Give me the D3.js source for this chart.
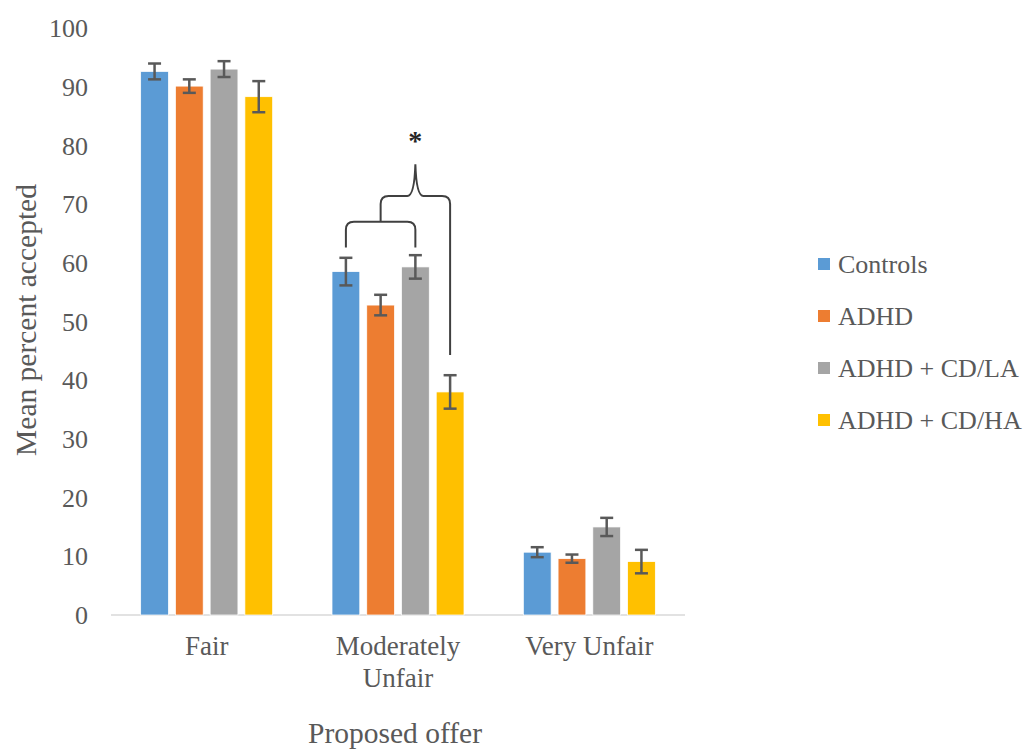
<!DOCTYPE html>
<html>
<head>
<meta charset="utf-8">
<script src="https://cdn.jsdelivr.net/npm/d3@7"></script>
<style>
  html, body { margin: 0; padding: 0; background: #fff; }
  svg { display: block; }
  text { font-family: "Liberation Serif", "Times New Roman", serif; fill: #595959; }
</style>
</head>
<body>
<svg id="chart" width="1026" height="751"></svg>
<script>
// Offer categories and groups
const categories = ["Fair", "Moderately Unfair", "Very Unfair"];
const groups = ["Controls", "ADHD", "ADHD + CD/LA", "ADHD + CD/HA"];
const groupColors = ["#5B9BD5", "#ED7D31", "#A5A5A5", "#FFC000"];

// Mean percent accepted, one array per group (Fair, Moderately Unfair, Very Unfair)
const controlsMean = [92.6, 58.5, 10.7];
const adhdMean     = [90.1, 52.8, 9.6];
const cdLaMean     = [93.0, 59.3, 15.0];
const cdHaMean     = [88.3, 38.0, 9.1];

// Standard errors for the same cells
const controlsErr = [1.35, 2.35, 0.85];
const adhdErr     = [1.15, 1.75, 0.7];
const cdLaErr     = [1.35, 2.0, 1.55];
const cdHaErr     = [2.65, 2.85, 2.0];

const yTicks = [0, 10, 20, 30, 40, 50, 60, 70, 80, 90, 100];

const means = [controlsMean, adhdMean, cdLaMean, cdHaMean];
const errs = [controlsErr, adhdErr, cdLaErr, cdHaErr];

const cells = [];
categories.forEach((c, ci) => {
  groups.forEach((g, gi) => {
    cells.push({ cat: c, group: g, gi, value: means[gi][ci], err: errs[gi][ci] });
  });
});

const svg = d3.select("#chart");

const x0 = d3.scaleBand().domain(categories).range([111, 685]);
const x1 = d3.scaleBand().domain(groups).range([-66, 66]).paddingInner(0.2);
const y = d3.scaleLinear().domain([0, 100]).range([615, 28]);

const cx = c => x0(c) + x0.bandwidth() / 2;
const barX = d => cx(d.cat) + x1(d.group);
const barMid = (c, g) => cx(c) + x1(g) + x1.bandwidth() / 2;

// Y tick labels (no gridlines)
svg.append("g").selectAll("text").data(yTicks).join("text")
  .attr("x", 88)
  .attr("y", d => y(d))
  .attr("dy", "0.35em")
  .attr("text-anchor", "end")
  .attr("font-size", 26)
  .text(d => d);

// Baseline
svg.append("line")
  .attr("x1", x0.range()[0]).attr("x2", x0.range()[1])
  .attr("y1", y(0)).attr("y2", y(0))
  .attr("stroke", "#D9D9D9").attr("stroke-width", 1.5);

// Bars
svg.append("g").selectAll("rect").data(cells).join("rect")
  .attr("x", barX)
  .attr("y", d => y(d.value))
  .attr("width", x1.bandwidth())
  .attr("height", d => y(0) - y(d.value))
  .attr("fill", d => groupColors[d.gi])
  .attr("stroke", "#ffffff")
  .attr("stroke-width", 0.75);

// Error bars
const eb = svg.append("g").attr("stroke", "#595959").attr("stroke-width", 2.5).attr("fill", "none");
cells.forEach(d => {
  const m = barX(d) + x1.bandwidth() / 2;
  const hi = y(d.value + d.err), lo = y(d.value - d.err);
  eb.append("line").attr("x1", m).attr("x2", m).attr("y1", hi).attr("y2", lo);
  eb.append("line").attr("x1", m - 6.5).attr("x2", m + 6.5).attr("y1", hi).attr("y2", hi);
  eb.append("line").attr("x1", m - 6.5).attr("x2", m + 6.5).attr("y1", lo).attr("y2", lo);
});

// Category labels
const catLines = { "Fair": ["Fair"], "Moderately Unfair": ["Moderately", "Unfair"], "Very Unfair": ["Very Unfair"] };
categories.forEach(c => {
  const t = svg.append("text")
    .attr("x", cx(c)).attr("y", 655)
    .attr("text-anchor", "middle")
    .attr("font-size", 27);
  catLines[c].forEach((line, i) => {
    t.append("tspan").attr("x", cx(c)).attr("dy", i === 0 ? 0 : 32).text(line);
  });
});

// Axis titles
svg.append("text")
  .attr("x", 395).attr("y", 743)
  .attr("text-anchor", "middle")
  .attr("font-size", 29.5)
  .text("Proposed offer");

svg.append("text")
  .attr("transform", `translate(36,320) rotate(-90)`)
  .attr("text-anchor", "middle")
  .attr("font-size", 29.5)
  .text("Mean percent accepted");

// Significance brackets in the Moderately Unfair group
const mu = "Moderately Unfair";
const bracketEnd = 62.6, bracketTop = 67.0, braceLevel = 71.4, braceTip = 76.8, haEnd = 44.3, starLevel = 81.5;
const bx1 = barMid(mu, groups[0]), bx2 = barMid(mu, groups[2]), bx3 = barMid(mu, groups[3]);
const bmid = (bx1 + bx2) / 2;
const r = 8;
const br = svg.append("g").attr("fill", "none").attr("stroke", "#404040").attr("stroke-width", 2);

br.append("path").attr("d",
  `M${bx1},${y(bracketEnd)} L${bx1},${y(bracketTop) + r} Q${bx1},${y(bracketTop)} ${bx1 + r},${y(bracketTop)}` +
  ` L${bx2 - r},${y(bracketTop)} Q${bx2},${y(bracketTop)} ${bx2},${y(bracketTop) + r} L${bx2},${y(bracketEnd)}` +
  ` M${bmid},${y(bracketTop)} L${bmid},${y(braceLevel) + r}`);

const tipX = (bmid + bx3) / 2;
br.append("path").attr("d",
  `M${bmid},${y(braceLevel) + r} Q${bmid},${y(braceLevel)} ${bmid + r},${y(braceLevel)}` +
  ` L${tipX - 8},${y(braceLevel)} Q${tipX - 1},${y(braceLevel)} ${tipX},${y(braceTip)}` +
  ` Q${tipX + 1},${y(braceLevel)} ${tipX + 8},${y(braceLevel)}` +
  ` L${bx3 - r},${y(braceLevel)} Q${bx3},${y(braceLevel)} ${bx3},${y(braceLevel) + r} L${bx3},${y(haEnd)}`);

svg.append("text")
  .attr("x", tipX).attr("y", y(starLevel) + 13)
  .attr("text-anchor", "middle")
  .attr("font-size", 28)
  .attr("font-weight", "bold")
  .style("fill", "#262626")
  .text("*");

// Legend
const legend = svg.append("g");
groups.forEach((g, i) => {
  const ly = 264 + i * 52;
  legend.append("rect")
    .attr("x", 818).attr("y", ly - 6).attr("width", 12).attr("height", 12)
    .attr("fill", groupColors[i]);
  legend.append("text")
    .attr("x", 838).attr("y", ly).attr("dy", "0.35em")
    .attr("font-size", 26)
    .text(g);
});
</script>
</body>
</html>
